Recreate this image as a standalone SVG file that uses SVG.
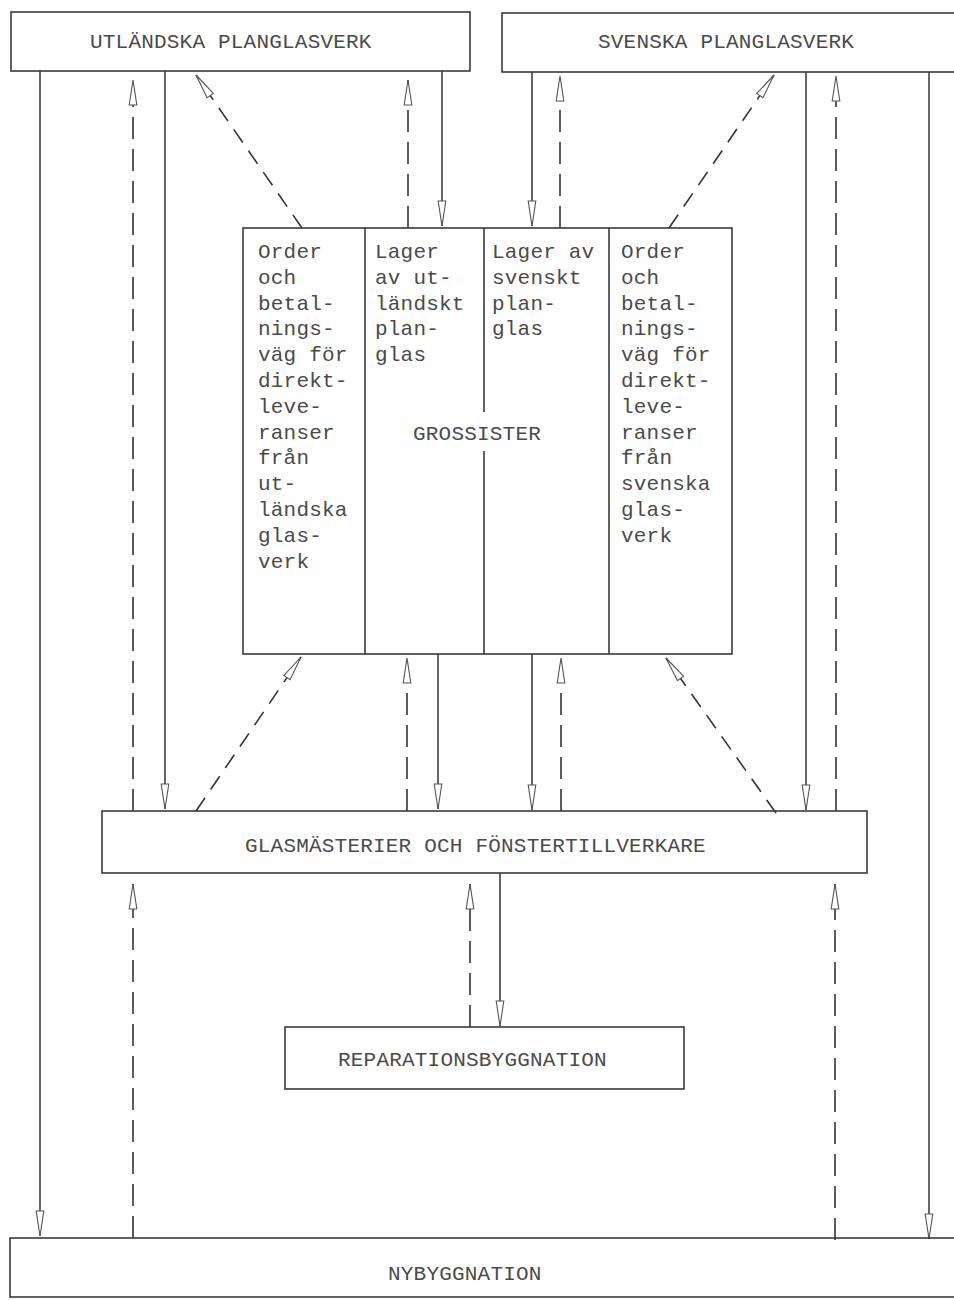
<svg xmlns="http://www.w3.org/2000/svg" width="954" height="1300" viewBox="0 0 954 1300">
<style>
  .box { fill: none; stroke: #3a3a3a; stroke-width: 1.6; }
  .t { font-family: "Liberation Mono", "DejaVu Sans Mono", monospace; font-size: 21px; letter-spacing: 0.2px; fill: #4a4a4a; }
  .solid { fill: none; stroke: #333; stroke-width: 1.5; marker-end: url(#ah); }
  .dash { fill: none; stroke: #333; stroke-width: 1.6; stroke-dasharray: 22 10; marker-end: url(#ah); }
  .ddash { fill: none; stroke: #333; stroke-width: 1.6; stroke-dasharray: 16 10; marker-end: url(#ah); }
</style>
<defs>
  <marker id="ah" markerUnits="userSpaceOnUse" viewBox="0 0 26 10" markerWidth="26" markerHeight="10" refX="26" refY="5" orient="auto">
    <path d="M1,1.2 L26,5 L1,8.8 Z" fill="#fff" stroke="#555" stroke-width="1.1" stroke-dasharray="none"/>
  </marker>
</defs>
<rect width="954" height="1300" fill="#fff"/>

<g id="connectors">
  <path class="solid" d="M40,71 V1236"/>
  <path class="solid" d="M165,71 V809"/>
  <path class="solid" d="M442,71 V226"/>
  <path class="solid" d="M532,72 V226"/>
  <path class="solid" d="M806,72 V810"/>
  <path class="solid" d="M929,72 V1239"/>
  <path class="solid" d="M438,654 V809"/>
  <path class="solid" d="M532,654 V810"/>
  <path class="solid" d="M500,873 V1026"/>

  <path class="dash" d="M133,811 V80"/>
  <path class="dash" d="M408,228 V80"/>
  <path class="dash" d="M560,228 V76"/>
  <path class="dash" d="M836,811 V76"/>
  <path class="dash" d="M407,811 V658"/>
  <path class="dash" d="M561,811 V658"/>
  <path class="dash" d="M133,1238 V884"/>
  <path class="dash" d="M470,1027 V884"/>
  <path class="dash" d="M835,1240 V884"/>

  <path class="ddash" d="M302,228 L196,75"/>
  <path class="ddash" d="M669,228 L774,75"/>
  <path class="ddash" d="M196,811 L301,657"/>
  <path class="ddash" d="M776,813 L666,658"/>
</g>

<g id="utlandska">
  <rect class="box" x="11" y="12" width="459" height="59"/>
  <text class="t" x="90" y="48">UTLÄNDSKA PLANGLASVERK</text>
</g>

<g id="svenska">
  <rect class="box" x="502" y="13" width="470" height="59"/>
  <text class="t" x="598" y="48">SVENSKA PLANGLASVERK</text>
</g>

<g id="grossister">
  <rect class="box" x="243" y="228" width="489" height="426" fill="#fff"/>
  <line class="box" x1="365" y1="228" x2="365" y2="654"/>
  <line class="box" x1="484" y1="228" x2="484" y2="412"/>
  <line class="box" x1="484" y1="451" x2="484" y2="654"/>
  <line class="box" x1="609" y1="228" x2="609" y2="654"/>
  <text class="t" x="413" y="440">GROSSISTER</text>
  <text class="t">
    <tspan x="258" y="258">Order</tspan>
    <tspan x="258" y="283.8">och</tspan>
    <tspan x="258" y="309.6">betal-</tspan>
    <tspan x="258" y="335.4">nings-</tspan>
    <tspan x="258" y="361.2">väg för</tspan>
    <tspan x="258" y="387">direkt-</tspan>
    <tspan x="258" y="412.8">leve-</tspan>
    <tspan x="258" y="438.6">ranser</tspan>
    <tspan x="258" y="464.4">från</tspan>
    <tspan x="258" y="490.2">ut-</tspan>
    <tspan x="258" y="516">ländska</tspan>
    <tspan x="258" y="541.8">glas-</tspan>
    <tspan x="258" y="567.6">verk</tspan>
  </text>
  <text class="t">
    <tspan x="375" y="258">Lager</tspan>
    <tspan x="375" y="283.8">av ut-</tspan>
    <tspan x="375" y="309.6">ländskt</tspan>
    <tspan x="375" y="335.4">plan-</tspan>
    <tspan x="375" y="361.2">glas</tspan>
  </text>
  <text class="t">
    <tspan x="492" y="258">Lager av</tspan>
    <tspan x="492" y="283.8">svenskt</tspan>
    <tspan x="492" y="309.6">plan-</tspan>
    <tspan x="492" y="335.4">glas</tspan>
  </text>
  <text class="t">
    <tspan x="621" y="258">Order</tspan>
    <tspan x="621" y="283.8">och</tspan>
    <tspan x="621" y="309.6">betal-</tspan>
    <tspan x="621" y="335.4">nings-</tspan>
    <tspan x="621" y="361.2">väg för</tspan>
    <tspan x="621" y="387">direkt-</tspan>
    <tspan x="621" y="412.8">leve-</tspan>
    <tspan x="621" y="438.6">ranser</tspan>
    <tspan x="621" y="464.4">från</tspan>
    <tspan x="621" y="490.2">svenska</tspan>
    <tspan x="621" y="516">glas-</tspan>
    <tspan x="621" y="541.8">verk</tspan>
  </text>
</g>

<g id="glasmasterier">
  <rect class="box" x="102" y="811" width="765" height="62" fill="#fff"/>
  <text class="t" x="245" y="852">GLASMÄSTERIER OCH FÖNSTERTILLVERKARE</text>
</g>

<g id="reparation">
  <rect class="box" x="285" y="1027" width="399" height="62" fill="#fff"/>
  <text class="t" x="338" y="1066">REPARATIONSBYGGNATION</text>
</g>

<g id="nybyggnation">
  <rect class="box" x="10" y="1238" width="960" height="59"/>
  <text class="t" x="388" y="1280">NYBYGGNATION</text>
</g>
</svg>
